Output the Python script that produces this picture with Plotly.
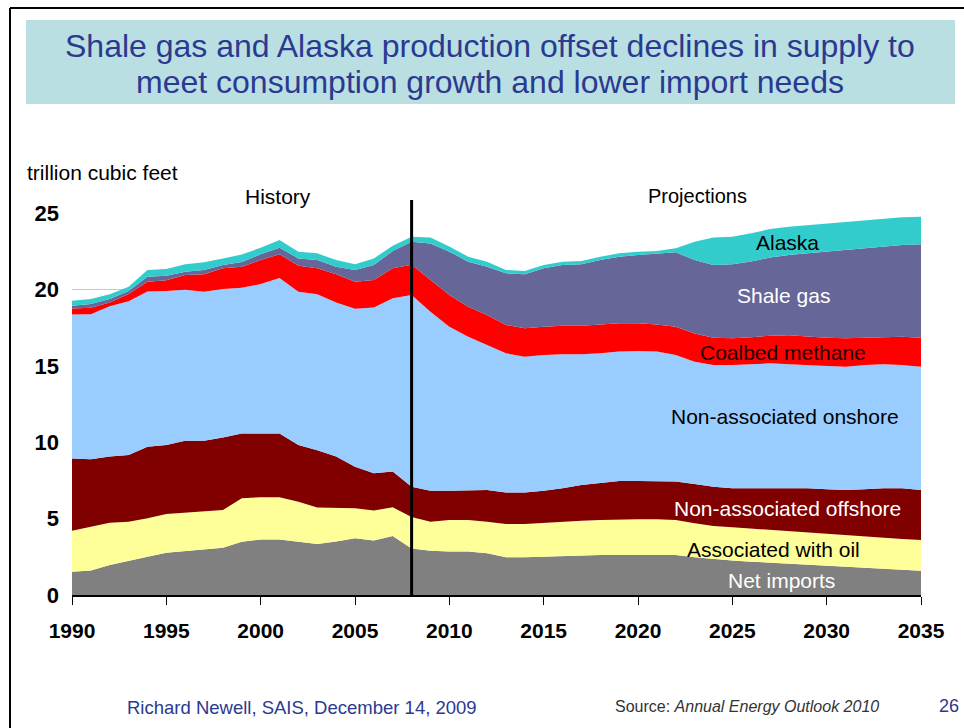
import plotly.graph_objects as go

years = list(range(1990, 2036))

net_imports = [1.52, 1.60, 1.96, 2.25, 2.50, 2.77, 2.88, 2.95, 3.10, 3.49,
               3.64, 3.64, 3.50, 3.34, 3.50, 3.71, 3.56, 3.86, 3.05, 2.90,
               2.84, 2.84, 2.73, 2.47, 2.47, 2.51, 2.55, 2.62, 2.62, 2.62,
               2.62, 2.62, 2.62, 2.47, 2.34, 2.25, 2.18, 2.12, 2.05, 1.99,
               1.92, 1.85, 1.79, 1.72, 1.66, 1.59]
associated_oil = [2.69, 2.87, 2.77, 2.55, 2.52, 2.53, 2.51, 2.50, 2.46, 2.84,
                  2.76, 2.76, 2.61, 2.38, 2.18, 1.97, 1.97, 1.88, 2.05, 1.90,
                  2.07, 2.07, 2.07, 2.18, 2.18, 2.22, 2.25, 2.24, 2.29, 2.33,
                  2.33, 2.33, 2.29, 2.22, 2.18, 2.18, 2.16, 2.13, 2.12, 2.09,
                  2.07, 2.06, 2.03, 2.03, 2.00, 2.01]
offshore = [4.73, 4.41, 4.33, 4.36, 4.68, 4.51, 4.71, 4.65, 4.74, 4.24,
            4.17, 4.17, 3.70, 3.76, 3.38, 2.72, 2.44, 2.34, 1.99, 2.03,
            1.92, 1.96, 2.07, 2.05, 2.05, 2.10, 2.18, 2.34, 2.44, 2.51,
            2.51, 2.51, 2.51, 2.57, 2.57, 2.55, 2.64, 2.77, 2.85, 2.90,
            2.93, 2.96, 3.10, 3.23, 3.32, 3.27]
onshore = [9.41, 9.49, 9.84, 10.06, 10.17, 10.09, 9.88, 9.75, 9.72, 9.53,
           9.78, 10.18, 10.04, 10.20, 10.09, 10.34, 10.85, 11.34, 12.54, 11.71,
           10.73, 10.03, 9.49, 9.12, 8.90, 8.88, 8.77, 8.55, 8.47, 8.47,
           8.51, 8.47, 8.29, 8.01, 7.96, 8.07, 8.12, 8.14, 8.08, 8.07,
           8.09, 8.07, 8.13, 8.12, 8.07, 8.07]
coalbed = [0.40, 0.43, 0.25, 0.48, 0.63, 0.70, 0.96, 1.14, 1.36, 1.39,
           1.57, 1.55, 1.70, 1.70, 1.84, 1.76, 1.79, 1.96, 1.99, 2.07,
           2.07, 1.97, 1.96, 1.85, 1.85, 1.85, 1.87, 1.87, 1.89, 1.85,
           1.81, 1.78, 1.85, 1.85, 1.79, 1.75, 1.77, 1.81, 1.90, 1.85,
           1.83, 1.86, 1.79, 1.80, 1.85, 1.90]
shale = [0.18, 0.24, 0.22, 0.20, 0.33, 0.30, 0.22, 0.28, 0.22, 0.31,
         0.38, 0.43, 0.48, 0.54, 0.50, 0.77, 0.99, 1.13, 1.50, 2.39,
         2.84, 2.94, 3.17, 3.38, 3.54, 3.82, 3.98, 4.02, 4.21, 4.36,
         4.47, 4.65, 4.87, 4.80, 4.76, 4.84, 4.96, 5.11, 5.25, 5.46,
         5.63, 5.78, 5.85, 5.90, 6.00, 6.11]
alaska = [0.32, 0.33, 0.31, 0.28, 0.44, 0.43, 0.48, 0.50, 0.43, 0.48,
          0.43, 0.50, 0.44, 0.44, 0.43, 0.37, 0.43, 0.35, 0.33, 0.39,
          0.33, 0.33, 0.32, 0.22, 0.21, 0.22, 0.21, 0.22, 0.22, 0.22,
          0.22, 0.15, 0.26, 1.20, 1.79, 1.81, 1.84, 1.87, 1.85, 1.85,
          1.85, 1.81, 1.85, 1.85, 1.82, 1.81]

series_names = ["Net imports", "Associated with oil", "Non-associated offshore",
                "Non-associated onshore", "Coalbed methane", "Shale gas", "Alaska"]
series_values = [net_imports, associated_oil, offshore, onshore, coalbed, shale, alaska]
series_colors = ["#808080", "#FFFF99", "#800000", "#99CCFF", "#FF0000", "#666699", "#33CCCC"]

x_ticks = [1990, 1995, 2000, 2005, 2010, 2015, 2020, 2025, 2030, 2035]
y_ticks = [0, 5, 10, 15, 20, 25]
divider_year = 2008

FONT = "Liberation Sans, Arial, sans-serif"
W, H = 964, 728
L, R, T, B = 72, 43, 213, 133
PW, PH = W - L - R, H - T - B


def px(x):
    return (x - L) / PW


def py(y):
    return (H - B - y) / PH


fig = go.Figure()
for name, vals, col in zip(series_names, series_values, series_colors):
    fig.add_trace(go.Scatter(
        x=years, y=vals, name=name, mode="lines", stackgroup="one",
        line=dict(width=0, color=col), fillcolor=col, showlegend=False))

label_specs = [
    ("Alaska", 2027.9, 23.04, "black"),
    ("Shale gas", 2027.7, 19.57, "white"),
    ("Coalbed methane", 2027.7, 15.84, "#200000"),
    ("Non-associated onshore", 2027.8, 11.65, "black"),
    ("Non-associated offshore", 2027.9, 5.63, "white"),
    ("Associated with oil", 2027.2, 2.95, "black"),
    ("Net imports", 2027.6, 0.92, "white"),
]
annotations = []
for text, ax, ay, col in label_specs:
    annotations.append(dict(x=ax, y=ay, xref="x", yref="y", text=text, showarrow=False,
                            font=dict(family=FONT, size=21, color=col),
                            xanchor="center", yanchor="middle"))

TITLE_COL = "#2B3990"
annotations += [
    dict(x=px(490), y=py(46), xref="paper", yref="paper",
         text="Shale gas and Alaska production offset declines in supply to",
         showarrow=False, font=dict(family=FONT, size=32, color=TITLE_COL),
         xanchor="center", yanchor="middle"),
    dict(x=px(490), y=py(82), xref="paper", yref="paper",
         text="meet consumption growth and lower import needs",
         showarrow=False, font=dict(family=FONT, size=32, color=TITLE_COL),
         xanchor="center", yanchor="middle"),
    dict(x=px(25), y=py(172), xref="paper", yref="paper", text="trillion cubic feet",
         showarrow=False, font=dict(family=FONT, size=21, color="black"),
         xanchor="left", yanchor="middle"),
    dict(x=px(278), y=py(196), xref="paper", yref="paper", text="History",
         showarrow=False, font=dict(family=FONT, size=21, color="black"),
         xanchor="center", yanchor="middle"),
    dict(x=px(697), y=py(196), xref="paper", yref="paper", text="Projections",
         showarrow=False, font=dict(family=FONT, size=20, color="black"),
         xanchor="center", yanchor="middle"),
    dict(x=px(125), y=py(707), xref="paper", yref="paper",
         text="Richard Newell, SAIS, December 14, 2009",
         showarrow=False, font=dict(family=FONT, size=18.5, color=TITLE_COL),
         xanchor="left", yanchor="middle"),
    dict(x=px(613), y=py(706), xref="paper", yref="paper",
         text="Source: <i>Annual Energy Outlook 2010</i>",
         showarrow=False, font=dict(family=FONT, size=16, color="#333333"),
         xanchor="left", yanchor="middle"),
    dict(x=px(961), y=py(706), xref="paper", yref="paper", text="26",
         showarrow=False, font=dict(family=FONT, size=18, color=TITLE_COL),
         xanchor="right", yanchor="middle"),
]

shapes = [
    dict(type="rect", xref="paper", yref="paper", x0=px(26), x1=px(955), y0=py(104), y1=py(20),
         fillcolor="#B9DFE3", line=dict(width=0), layer="below"),
    dict(type="line", xref="paper", yref="paper", x0=px(10), x1=px(964), y0=py(8), y1=py(8),
         line=dict(color="black", width=2)),
    dict(type="line", xref="paper", yref="paper", x0=px(10), x1=px(10), y0=py(8), y1=py(728),
         line=dict(color="black", width=2)),
    dict(type="line", xref="x", yref="paper", x0=divider_year, x1=divider_year,
         y0=0, y1=py(200), line=dict(color="black", width=3)),
]

fig.update_layout(
    width=W, height=H,
    margin=dict(l=L, r=R, t=T, b=B, pad=0),
    paper_bgcolor="white", plot_bgcolor="white",
    font=dict(family=FONT, color="black"),
    annotations=annotations, shapes=shapes,
    showlegend=False,
)
fig.update_xaxes(range=[1990, 2035], tickvals=x_ticks,
                 ticktext=["<b>%d</b>" % v for v in x_ticks],
                 ticks="outside", ticklen=8, tickwidth=1, tickcolor="black",
                 showline=True, linecolor="black", linewidth=1.5,
                 showgrid=False, zeroline=False, ticklabelstandoff=8,
                 tickfont=dict(family=FONT, size=21, color="black"))
fig.update_yaxes(range=[0, 25], tickvals=y_ticks,
                 ticktext=["<b>%d</b>" % v for v in y_ticks],
                 ticks="", showline=False,
                 showgrid=True, gridcolor="#C8C8C8", gridwidth=1, zeroline=False,
                 ticklabelstandoff=12,
                 tickfont=dict(family=FONT, size=22, color="black"))

fig.write_html("out.html", config={"displayModeBar": False},
               post_script="document.body.style.margin='0px';document.body.style.overflow='hidden';")
